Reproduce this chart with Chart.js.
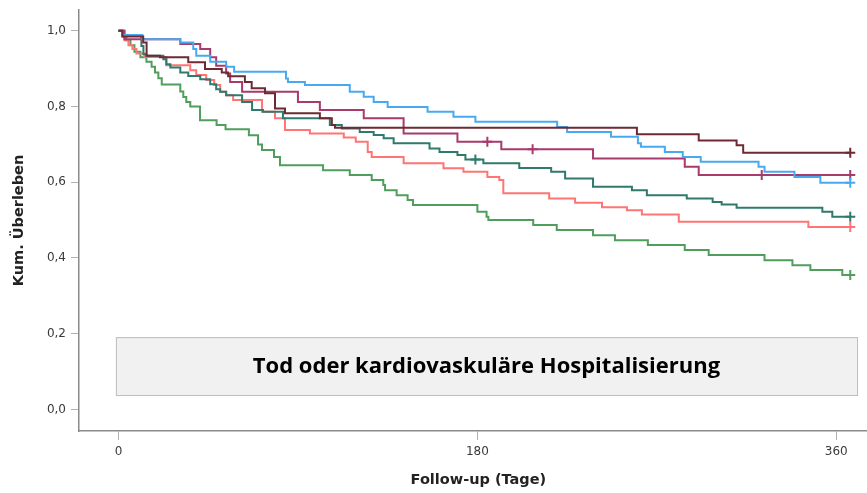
<!DOCTYPE html>
<html>
<head>
<meta charset="utf-8">
<script src="https://cdn.jsdelivr.net/npm/chart.js@4.4.1/dist/chart.umd.min.js"></script>
<style>
  html, body { margin: 0; padding: 0; background: #fff; overflow: hidden; }
  #grafico { display: block; }
</style>
</head>
<body>
<canvas id="grafico" width="867" height="493"></canvas>
<script>
// Kaplan-Meier Kurven, Werte (Tag, kum. Ueberleben)
var brownDays = [0, 2, 12.4, 14.1, 20.8, 35, 43.4, 51.8, 55, 63.4, 66.8, 73.5, 78.5, 83.5, 101, 107, 108.6, 260, 291, 310, 313.3, 367];
var brownSurv = [1.0, 0.985, 0.969, 0.934, 0.930, 0.917, 0.899, 0.890, 0.880, 0.865, 0.848, 0.835, 0.795, 0.782, 0.769, 0.751, 0.744, 0.727, 0.710, 0.698, 0.678, 0.678];

var blueDays = [0, 2, 12, 31, 37.5, 39, 46, 54, 58, 84, 85, 93.5, 116, 123, 128, 135, 155, 168, 179, 220, 225, 247, 260.5, 262, 274, 283, 292, 321, 324, 339, 352, 367];
var blueSurv = [1.0, 0.989, 0.978, 0.969, 0.952, 0.934, 0.918, 0.905, 0.892, 0.874, 0.865, 0.857, 0.839, 0.826, 0.812, 0.799, 0.786, 0.773, 0.760, 0.746, 0.733, 0.720, 0.703, 0.694, 0.680, 0.667, 0.654, 0.641, 0.628, 0.614, 0.599, 0.599];

var magentaDays = [0, 3, 31, 41, 46, 49, 54, 56, 62, 90, 101, 123, 143, 170, 192, 238, 284, 291, 367];
var magentaSurv = [1.0, 0.978, 0.965, 0.952, 0.930, 0.908, 0.887, 0.865, 0.839, 0.812, 0.791, 0.769, 0.729, 0.707, 0.687, 0.663, 0.641, 0.619, 0.619];

var tealDays = [0, 2, 11.5, 12.5, 14, 22.5, 24, 26, 31, 35, 41, 46, 49, 51, 54, 62, 67, 72.5, 82.5, 106, 112, 121, 128, 133, 138, 156, 161, 170, 174, 183, 201, 217, 224, 238, 257.5, 265, 285, 298, 302.5, 310, 353, 358, 367];
var tealSurv = [1.0, 0.987, 0.96, 0.938, 0.934, 0.925, 0.912, 0.903, 0.890, 0.881, 0.872, 0.859, 0.846, 0.839, 0.830, 0.812, 0.791, 0.786, 0.769, 0.751, 0.742, 0.733, 0.725, 0.716, 0.703, 0.689, 0.680, 0.672, 0.660, 0.650, 0.638, 0.628, 0.610, 0.588, 0.579, 0.566, 0.557, 0.548, 0.541, 0.533, 0.522, 0.509, 0.509];

var salmonDays = [0, 3, 5, 7, 9, 13, 24, 36, 39, 44, 48, 51, 54, 57.5, 72, 78.5, 83.5, 96, 113, 119, 125, 127, 143, 163, 173, 185, 191, 193, 216, 229, 242.5, 255, 262.5, 281, 346, 367];
var salmonSurv = [1.0, 0.975, 0.962, 0.952, 0.940, 0.931, 0.909, 0.896, 0.883, 0.870, 0.857, 0.839, 0.830, 0.817, 0.786, 0.769, 0.738, 0.729, 0.718, 0.707, 0.680, 0.667, 0.650, 0.637, 0.628, 0.614, 0.606, 0.571, 0.557, 0.546, 0.534, 0.526, 0.515, 0.496, 0.482, 0.482];

var greenDays = [0, 2, 4, 6, 8, 11, 14, 16.6, 18.3, 20, 21.7, 31, 32.5, 34, 36, 40.9, 49.2, 53.7, 65.4, 70, 72, 78, 81, 102.6, 116, 127, 132.8, 133.7, 139.5, 145, 147.7, 180, 184.6, 185.5, 208, 219.8, 238, 249, 265.5, 284, 296, 324, 338, 347, 363, 367];
var greenSurv = [1.0, 0.985, 0.975, 0.962, 0.945, 0.930, 0.918, 0.905, 0.890, 0.875, 0.858, 0.840, 0.825, 0.812, 0.800, 0.764, 0.751, 0.740, 0.724, 0.700, 0.685, 0.667, 0.645, 0.632, 0.619, 0.606, 0.593, 0.579, 0.566, 0.553, 0.540, 0.522, 0.509, 0.500, 0.487, 0.474, 0.460, 0.447, 0.434, 0.421, 0.408, 0.394, 0.381, 0.368, 0.355, 0.355];

// zensierte Faelle (+)
var brownCensor = [367];
var blueCensor = [367];
var magentaCensor = [185, 207.7, 322.6, 367];
var tealCensor = [179, 367];
var salmonCensor = [367];
var greenCensor = [367];

var xTicks = [0, 180, 360];
var yTicks = [0, 0.2, 0.4, 0.6, 0.8, 1.0];
var boxText = 'Tod oder kardiovaskuläre Hospitalisierung';
var xTitle = 'Follow-up (Tage)';

function puntos(dias, valores) {
    var out = [];
    for (var i = 0; i < dias.length; i++) {
        out.push({x: dias[i], y: valores[i]});
    }
    return out;
}

// Wert der Stufenfunktion am Tag t
function valorEn(dias, valores, t) {
    var v = valores[0];
    for (var i = 0; i < dias.length; i++) {
        if (dias[i] <= t) v = valores[i];
    }
    return v;
}

function censurados(dias, valores, cens) {
    return cens.map(function (t) { return {x: t, y: valorEn(dias, valores, t)}; });
}

var curvas = [
    {d: brownDays, v: brownSurv, c: brownCensor, color: '#6e2a33'},
    {d: blueDays, v: blueSurv, c: blueCensor, color: '#47aaf0'},
    {d: magentaDays, v: magentaSurv, c: magentaCensor, color: '#a83a6c'},
    {d: tealDays, v: tealSurv, c: tealCensor, color: '#2f7a6c'},
    {d: salmonDays, v: salmonSurv, c: salmonCensor, color: '#ff7474'},
    {d: greenDays, v: greenSurv, c: greenCensor, color: '#4f9e5c'}
];

var datasets = [];
curvas.forEach(function (k) {
    datasets.push({
        data: puntos(k.d, k.v),
        borderColor: k.color,
        borderWidth: 2,
        stepped: true,
        pointRadius: 0,
        fill: false
    });
    datasets.push({
        data: censurados(k.d, k.v, k.c),
        borderColor: k.color,
        borderWidth: 2,
        showLine: false,
        pointStyle: 'cross',
        pointRadius: 5
    });
});

var ejeFont = {family: '"DejaVu Sans", sans-serif', size: 12};
var tituloFont = {family: '"DejaVu Sans", sans-serif', size: 14.5, weight: 'bold'};

// graue Box mit Titel + x-Achsentitel (unter dem 180-Tick zentriert)
var cajaPlugin = {
    id: 'caja',
    beforeDatasetsDraw: function (chart) {
        var ctx = chart.ctx;
        var xs = chart.scales.x, ys = chart.scales.y;
        var x0 = xs.getPixelForValue(-1.3), x1 = xs.getPixelForValue(370.4);
        var y0 = ys.getPixelForValue(0.191), y1 = ys.getPixelForValue(0.038);
        ctx.save();
        ctx.fillStyle = '#f1f1f1';
        ctx.fillRect(x0, y0, x1 - x0, y1 - y0);
        ctx.strokeStyle = '#bdbdbd';
        ctx.lineWidth = 1;
        ctx.strokeRect(x0 + 0.5, y0 + 0.5, x1 - x0, y1 - y0);
        ctx.fillStyle = '#000';
        ctx.font = 'bold 22px "Open Sans", "Liberation Sans", sans-serif';
        ctx.textAlign = 'center';
        ctx.textBaseline = 'middle';
        ctx.fillText(boxText, (x0 + x1) / 2, (y0 + y1) / 2 + 1);
        ctx.restore();
    },
    afterDraw: function (chart) {
        var ctx = chart.ctx;
        var xs = chart.scales.x;
        ctx.save();
        ctx.fillStyle = '#222';
        ctx.font = 'bold 14.5px "DejaVu Sans", sans-serif';
        ctx.textAlign = 'center';
        ctx.textBaseline = 'middle';
        ctx.fillText(xTitle, xs.getPixelForValue(180) + 1, xs.bottom - 13);
        ctx.restore();
    }
};

new Chart(document.getElementById('grafico').getContext('2d'), {
    type: 'line',
    data: {datasets: datasets},
    plugins: [cajaPlugin],
    options: {
        responsive: false,
        animation: false,
        layout: {autoPadding: false, padding: {top: 10, right: 0, left: 0, bottom: 0}},
        plugins: {
            legend: {display: false},
            tooltip: {enabled: false}
        },
        scales: {
            x: {
                type: 'linear',
                min: -19.8,
                max: 375.4,
                afterFit: function (s) { s.height = 62; s.paddingLeft = 0; s.paddingRight = 0; },
                afterBuildTicks: function (s) { s.ticks = xTicks.map(function (v) { return {value: v}; }); },
                ticks: {color: '#3a3a3a', font: ejeFont, padding: 5, maxRotation: 0,
                    callback: function (v) { return String(v); }},
                grid: {display: true, drawOnChartArea: false, drawTicks: true, tickLength: 9, color: '#b0b0b0', lineWidth: 1},
                border: {display: true, color: '#8a8a8a', width: 1.5}
            },
            y: {
                type: 'linear',
                min: -0.057,
                max: 1.055,
                afterFit: function (s) { s.width = 79; s.paddingTop = 0; s.paddingBottom = 0; },
                afterBuildTicks: function (s) { s.ticks = yTicks.map(function (v) { return {value: v}; }); },
                ticks: {color: '#3a3a3a', font: ejeFont, padding: 5,
                    callback: function (v) { return v.toFixed(1).replace('.', ','); }},
                grid: {display: true, drawOnChartArea: false, drawTicks: true, tickLength: 8, color: '#b0b0b0', lineWidth: 1},
                border: {display: true, color: '#8a8a8a', width: 1.5},
                title: {display: true, text: 'Kum. Überleben', color: '#222', font: tituloFont, padding: {top: 11, bottom: 0}}
            }
        }
    }
});
</script>
</body>
</html>
